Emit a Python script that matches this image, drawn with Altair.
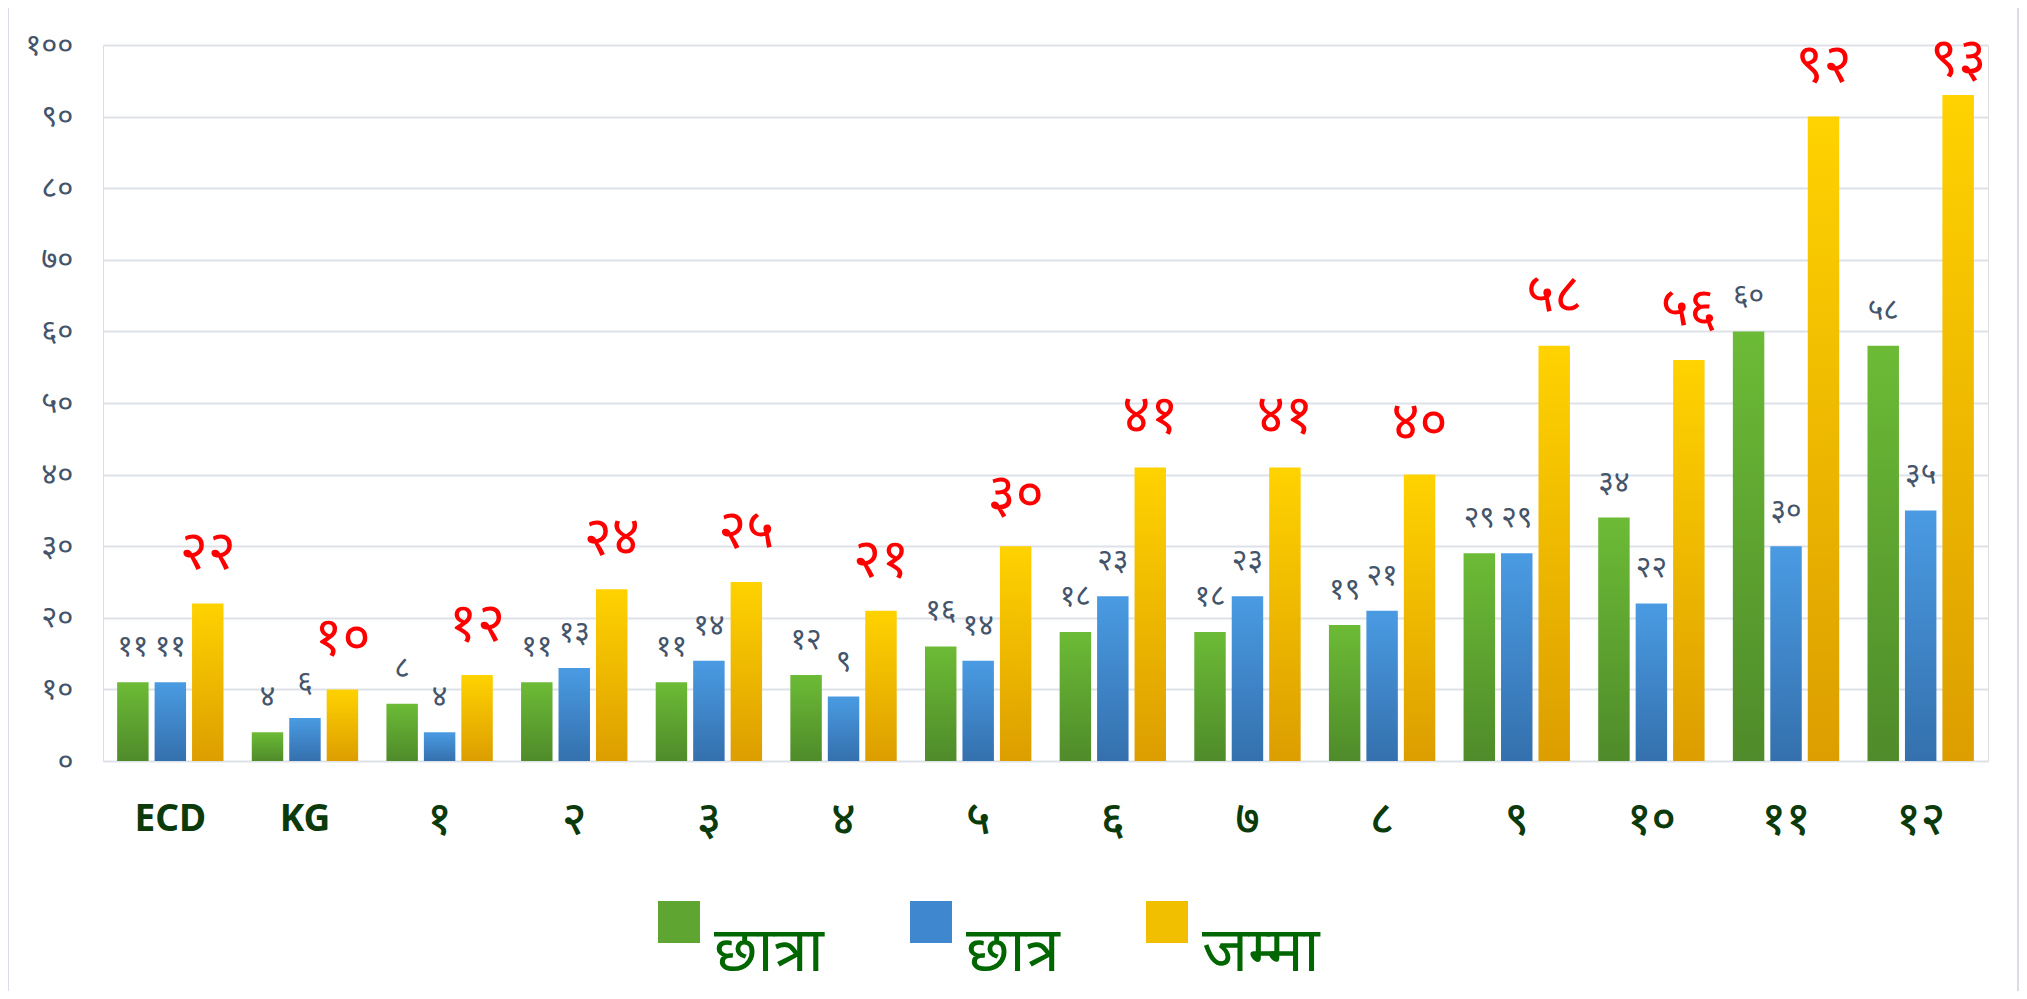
import altair as alt
import pandas as pd

categories = ["ECD", "KG", "१", "२", "३", "४", "५", "६", "७", "८", "९", "१०", "११", "१२"]
girls = [11, 4, 8, 11, 11, 12, 16, 18, 18, 19, 29, 34, 60, 58]
boys = [11, 6, 4, 13, 14, 9, 14, 23, 23, 21, 29, 22, 30, 35]
total = [22, 10, 12, 24, 25, 21, 30, 41, 41, 40, 58, 56, 90, 93]
total_text = ["२२", "१०", "१२", "२४", "२५", "२१", "३०", "४१", "४१", "४०", "५८", "५६", "९२", "९३"]
series_names = ["छात्रा", "छात्र", "जम्मा"]
y_ticks = [0, 10, 20, 30, 40, 50, 60, 70, 80, 90, 100]

DEV = str.maketrans("0123456789", "०१२३४५६७८९")

rows = []
for i, c in enumerate(categories):
    rows.append({"cat": c, "series": series_names[0], "value": girls[i], "label": str(girls[i]).translate(DEV)})
    rows.append({"cat": c, "series": series_names[1], "value": boys[i], "label": str(boys[i]).translate(DEV)})
    rows.append({"cat": c, "series": series_names[2], "value": total[i], "label": total_text[i]})
df = pd.DataFrame(rows)

W, H = 1885, 716
FONT = "Noto Sans"

label_expr = "datum.label"
for d, dv in zip("0123456789", "०१२३४५६७८९"):
    label_expr = f"replace({label_expr}, regexp('{d}', 'g'), '{dv}')"

latin_test = "datum.value == 'ECD' || datum.value == 'KG'"
x_enc = alt.X(
    "cat:N",
    sort=categories,
    scale=alt.Scale(paddingInner=0.21, paddingOuter=0.105),
    axis=alt.Axis(
        title=None, domain=False, ticks=False, labelAngle=0, labelPadding=58,
        labelFont=FONT, labelColor="#0B3A0B",
        labelFontSize={"condition": {"test": latin_test, "value": 37}, "value": 46},
        labelFontWeight={"condition": {"test": latin_test, "value": "bold"}, "value": 500},
        labelBaseline="middle",
    ),
)
y_axis = alt.Axis(
    title=None, domain=False, ticks=False, values=y_ticks, labelExpr=label_expr,
    labelFont=FONT, labelFontSize=31, labelColor="#44546A", labelPadding=30,
    gridColor="#DDE2E9", gridWidth=2,
)
y_scale = alt.Scale(domain=[0, 100], nice=False)
y_enc = alt.Y("value:Q", scale=y_scale, axis=y_axis)
xo_enc = alt.XOffset("series:N", sort=series_names,
                     scale=alt.Scale(domain=series_names, paddingInner=0.16, paddingOuter=0))

def grad(top, bottom):
    return alt.Gradient(gradient="linear", x1=0, x2=0, y1=0, y2=1,
                        stops=[alt.GradientStop(color=top, offset=0), alt.GradientStop(color=bottom, offset=1)])

gradients = [grad("#6CBB36", "#4F8B2A"), grad("#4A9BE3", "#3470AD"), grad("#FFD200", "#DC9E00")]

base = alt.Chart(df)
layers = []
for name, g in zip(series_names, gradients):
    layers.append(
        base.transform_filter(alt.datum.series == name)
        .mark_bar(fill=g)
        .encode(x=x_enc, y=y_enc, xOffset=xo_enc)
    )

small_labels = (
    base.transform_filter(alt.datum.series != series_names[2])
    .mark_text(font=FONT, fontSize=30, color="#44546A", dy=-35, baseline="middle")
    .encode(x=x_enc, y=y_enc, xOffset=xo_enc, text="label:N")
)
# total labels sit ~7 units above the bar, kept inside the plot like the original
big_labels = (
    base.transform_filter(alt.datum.series == series_names[2])
    .transform_calculate(ly="min(datum.value + 7, 97.9)")
    .mark_text(font=FONT, fontSize=54, color="#FF0000", baseline="middle")
    .encode(x=x_enc, y=alt.Y("ly:Q", scale=y_scale, axis=y_axis), xOffset=xo_enc, text="label:N")
)

legend_layer = (
    base.mark_square(opacity=0)
    .encode(
        x=x_enc, y=y_enc, xOffset=xo_enc,
        color=alt.Color(
            "series:N", sort=series_names,
            scale=alt.Scale(domain=series_names, range=["#5FA532", "#3F87CE", "#F2BE00"]),
            legend=alt.Legend(
                title=None, orient="none", legendX=545, legendY=846, direction="horizontal",
                symbolType="square", symbolSize=1764, symbolOpacity=1,
                symbolStrokeWidth=0, labelFont=FONT, labelFontSize=62, labelColor="#006600",
                labelOffset=4, columnPadding=76, labelBaseline="top", padding=0,
                labelLimit=500,
            ),
        ),
    )
)

frame = (
    alt.Chart(pd.DataFrame({"k": [0]}))
    .mark_rect(fill="transparent", stroke="#D9DEE6", strokeWidth=2)
    .encode(x=alt.value(-95), x2=alt.value(W + 30), y=alt.value(-38), y2=alt.value(H + 300))
)

chart = (
    alt.layer(frame, *layers, small_labels, big_labels, legend_layer)
    .properties(
        width=W, height=H,
        autosize=alt.AutoSizeParams(type="none"),
        padding={"left": 95, "top": 37, "right": 31, "bottom": 230},
    )
    .configure_view(stroke=None)
    .configure(background="white")
)

chart.save("out.html", embed_options={"renderer": "svg", "actions": False})
